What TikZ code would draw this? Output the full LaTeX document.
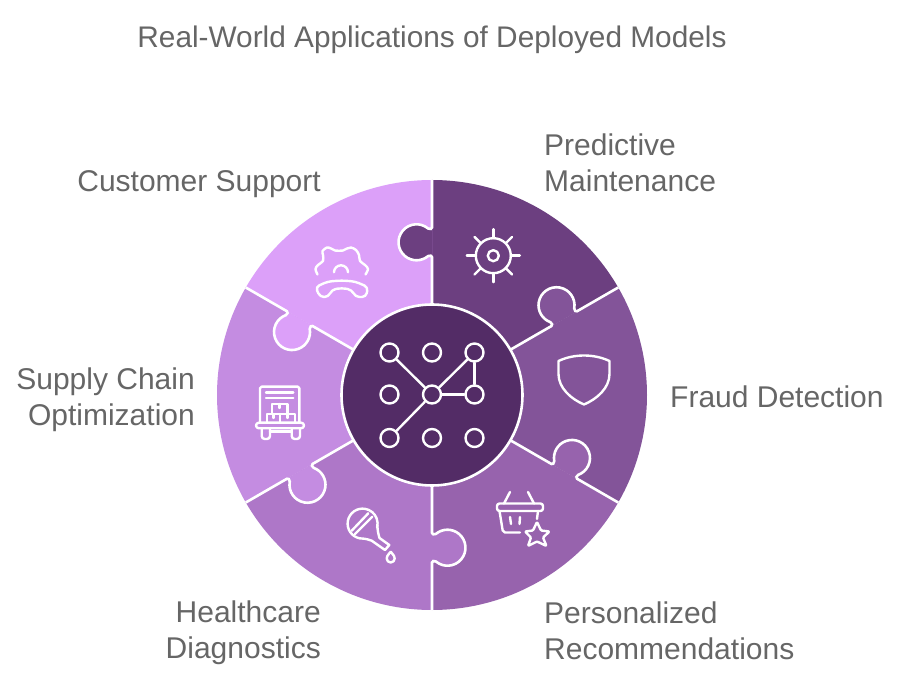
\documentclass[tikz,border=0pt]{standalone}
\usepackage{fontspec}
\setmainfont{Liberation Sans}
\usepackage{xcolor}
\definecolor{hubcol}{HTML}{532C66}
\definecolor{predictcol}{HTML}{6C3F80}
\definecolor{fraudcol}{HTML}{835499}
\definecolor{personalcol}{HTML}{9763AD}
\definecolor{healthcol}{HTML}{AE77C8}
\definecolor{supplycol}{HTML}{C48CE1}
\definecolor{customercol}{HTML}{DCA0F9}
\definecolor{textcol}{HTML}{666666}
\tikzset{
	iconline/.style={draw=white, line width=2.4pt, line cap=round, line join=round},
	griddot/.style={circle, draw=white, line width=2.4pt, inner sep=0pt, minimum size=18pt},
	label/.style={text=textcol, inner sep=0pt, font=\fontsize{30}{36}\selectfont},
	tabedge/.style={insert path={(215,0) -- (167.5,0) .. controls (166,0) and (165.5,2) .. (166.5,3.9)
		arc[start angle=-40, end angle=220, radius=18]
		.. controls (139.9,2) and (139.4,0) .. (137.9,0) -- (90,0)}}
}

\begin{document}
\begin{tikzpicture}[x=1pt, y=-1pt]
	\useasboundingbox (0,0) rectangle (900,684);

	% wheel
	\begin{scope}[shift={(432,395)}, y=1pt]
		\foreach \ang/\col in {90/predictcol, 30/fraudcol, -30/personalcol, -90/healthcol, -150/supplycol, 150/customercol}
			\fill[\col] (0,0) -- (\ang-60:215) arc[start angle=\ang-60, end angle=\ang, radius=215] -- cycle;
		\foreach \ang/\col in {90/predictcol, 30/fraudcol, -30/personalcol, -90/healthcol, -150/supplycol, 150/customercol} {
			\begin{scope}[rotate=\ang]
				\fill[\col, tabedge];
				\draw[white, line width=2.6pt, tabedge];
			\end{scope}
		}
	\end{scope}
	\node[circle, fill=hubcol, draw=white, line width=2.6pt, inner sep=0pt, minimum size=181pt] (hub) at (432,395) {};

	% hub icon
	\foreach \px/\cx in {l/389.5, m/432, r/474.5}
		\foreach \py/\cy in {t/352.5, c/394.5, b/438}
			\node[griddot] (\px\py) at (\cx,\cy) {};
	\draw[iconline] (lt) -- (mc);
	\draw[iconline] (lb) -- (mc);
	\draw[iconline] (rt) -- (mc);
	\draw[iconline] (mc) -- (rc);
	\draw[iconline] (rt) -- (rc);

	% predictive maintenance
	\draw[iconline] (493.3,255.7) circle (17.5);
	\draw[iconline] (493.3,255.7) circle (5.5);
	\foreach \a in {0,45,...,315}
		\draw[iconline] (493.3,255.7) ++(\a:17.5) -- ++(\a:9);

	% fraud detection
	\draw[iconline] (558.5,361) .. controls (567,357) and (576,355.5) .. (584,355.5)
		.. controls (592,355.5) and (601,357) .. (609.5,361) -- (609.5,374)
		.. controls (609.5,388) and (597,399) .. (584,404.5)
		.. controls (571,399) and (558.5,388) .. (558.5,374) -- cycle;

	% personalized recommendations
	\draw[iconline, rounded corners=2.5] (497,503.5) rectangle (543,511);
	\draw[iconline] (510,492) -- (504,503.5);
	\draw[iconline] (528,492) -- (534,503.5);
	\draw[iconline, rounded corners=2] (499.5,511) -- (503,532.5) -- (520,532.5);
	\draw[iconline] (538,511) -- (537,519);
	\draw[iconline] (510,517) -- (511,524);
	\draw[iconline] (520,517) -- (519.5,524);
	\draw[iconline, rounded corners=1] (537,522) -- (541,530.5) -- (549.5,531.5) -- (543,537.5) -- (546.5,546) -- (537,541.5) -- (528,546) -- (531,537.5) -- (525,531.5) -- (533,530.5) -- cycle;

	% healthcare diagnostics
	\draw[iconline] (371.7,540.7) .. controls (366,538.5) and (362,538.5) .. (360,538.4)
		arc[start angle=100, end angle=375, radius=15];
	\draw[iconline] (371.7,540.7) -- (385,550) -- (389.3,545) -- (379.5,538) .. controls (378,533) and (377.5,530) .. (377.4,525);
	\draw[iconline] (351.7,530.7) -- (368.3,513.3);
	\draw[iconline] (355,534) -- (372.3,516.7);
	\draw[iconline] (390.7,551.7) .. controls (387,556) and (386.7,557) .. (386.7,558.5) arc[start angle=180, end angle=0, radius=4] .. controls (394.7,557) and (394.4,556) .. (390.7,551.7);

	% supply chain optimization
	\draw[iconline, rounded corners=1.5] (260,422.7) -- (260,386.7) -- (299.3,386.7) -- (299.3,422.7);
	\draw[iconline, rounded corners=2.8] (256,422.7) rectangle (304,428.3);
	\draw[iconline, rounded corners=3] (261.7,428.3) -- (261.7,439) -- (270,439) -- (270,428.3);
	\draw[iconline, rounded corners=3] (291.7,428.3) -- (291.7,439) -- (300,439) -- (300,428.3);
	\draw[iconline] (270,431.7) -- (291.7,431.7);
	\draw[iconline] (266,392.7) -- (293.3,392.7);
	\draw[iconline] (266,398.3) -- (293.3,398.3);
	\draw[iconline] (271.7,414) -- (271.7,404) -- (287.3,404) -- (287.3,414);
	\draw[iconline] (266.7,422.7) -- (266.7,414) -- (295,414) -- (295,422.7);
	\draw[iconline] (280,414) -- (280,422.7);
	\draw[iconline] (279.5,404) -- (279.5,408);
	\draw[iconline] (273.5,414) -- (273.5,418);
	\draw[iconline] (287.5,414) -- (287.5,418);

	% customer support
	\draw[iconline] plot[smooth, tension=0.55] coordinates {(317.5,274.5) (315.5,269) (318,265) (323,261) (323,255) (322.5,251) (327,247.5) (331,248.5) (335,250.5) (343,250.5) (347,248.5) (351,247.5) (356,250) (359,255) (360,261) (365,265) (368,269) (365.5,274.5)};
	\draw[iconline] (334,272.3) arc[start angle=180, end angle=360, radius=7];
	\draw[iconline, rounded corners=4] (320,297) -- (315.5,287) -- (328,281.5) -- (341.7,280.5) -- (355,281.5) -- (368,287) -- (366,297) -- (355.5,297) -- (351.7,289.7) -- (341.7,288) -- (331.7,289.7) -- (328.5,297) -- cycle;

	% labels
	\node[label, font=\fontsize{29.8}{36}\selectfont] (title) at (432,40) {Real-World Applications of Deployed Models};
	\node[label, anchor=west, align=left] (predict) at (544,163) {Predictive\\Maintenance};
	\node[label, anchor=west] (fraud) at (670,397) {Fraud Detection};
	\node[label, anchor=west, align=left] (personal) at (544,631) {Personalized\\Recommendations};
	\node[label, anchor=east, align=right] (health) at (321,633) {Healthcare\\Diagnostics};
	\node[label, anchor=east, align=right] (supply) at (195,400) {Supply Chain\\Optimization};
	\node[label, anchor=east] (customer) at (321,184) {Customer Support};
\end{tikzpicture}
\end{document}
